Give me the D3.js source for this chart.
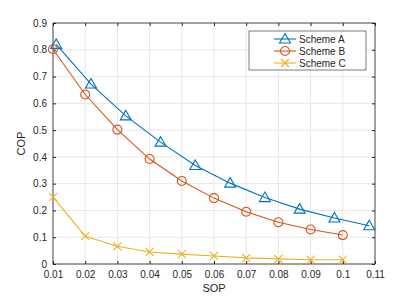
<!DOCTYPE html>
<html>
<head>
<meta charset="utf-8">
<script src="https://d3js.org/d3.v7.min.js"></script>
<style>
  body { margin: 0; background: #fff; }
  text { font-family: "Liberation Sans", Arial, sans-serif; }
</style>
</head>
<body>
<div class="chart"></div>
<script>
// data
var sopA = [0.011, 0.0218, 0.0326, 0.0434, 0.0542, 0.065, 0.0758, 0.0866, 0.0974, 0.1082];
var copA = [0.82, 0.672, 0.553, 0.455, 0.368, 0.302, 0.248, 0.205, 0.172, 0.143];
var sopB = [0.01, 0.02, 0.03, 0.04, 0.05, 0.06, 0.07, 0.08, 0.09, 0.1];
var copB = [0.802, 0.633, 0.502, 0.392, 0.31, 0.246, 0.195, 0.156, 0.129, 0.108];
var sopC = [0.01, 0.02, 0.03, 0.04, 0.05, 0.06, 0.07, 0.08, 0.09, 0.1];
var copC = [0.25, 0.104, 0.066, 0.045, 0.037, 0.03, 0.023, 0.019, 0.016, 0.016];
var xTicks = [0.01, 0.02, 0.03, 0.04, 0.05, 0.06, 0.07, 0.08, 0.09, 0.1, 0.11];
var yTicks = [0, 0.1, 0.2, 0.3, 0.4, 0.5, 0.6, 0.7, 0.8, 0.9];
var seriesNames = ["Scheme A", "Scheme B", "Scheme C"];
var colors = ["#0072BD", "#D95319", "#EDB120"];
var markers = ["triangle", "circle", "x"];

var W = 415, H = 297;
var margins = { top: 23, left: 53, right: 40, bottom: 33 };
var width = W - margins.left - margins.right;
var height = H - margins.top - margins.bottom;

var svg = d3.select('.chart').append('svg')
    .attr('width', W).attr('height', H);
var g = svg.append('g')
    .attr('transform', 'translate(' + margins.left + ',' + margins.top + ')');

var xScale = d3.scaleLinear().domain([0.01, 0.11]).range([0, width]);
var yScale = d3.scaleLinear().domain([0, 0.9]).range([height, 0]);

// grid
g.selectAll('.gx').data(xTicks).enter().append('line')
    .attr('x1', d => xScale(d)).attr('x2', d => xScale(d))
    .attr('y1', 0).attr('y2', height)
    .attr('stroke', '#e6e6e6').attr('stroke-width', 1);
g.selectAll('.gy').data(yTicks).enter().append('line')
    .attr('y1', d => yScale(d)).attr('y2', d => yScale(d))
    .attr('x1', 0).attr('x2', width)
    .attr('stroke', '#e6e6e6').attr('stroke-width', 1);

var axisColor = '#262626';
function styleAxis(sel) {
    sel.select('.domain').remove();
    sel.selectAll('.tick line').attr('stroke', axisColor);
    sel.selectAll('.tick text').attr('fill', axisColor).style('font-size', '10px');
}
var fmt = d => d3.format('')(+d.toFixed(2));

g.append('g').attr('transform', 'translate(0,' + height + ')')
    .call(d3.axisBottom(xScale).tickValues(xTicks).tickFormat(fmt).tickSizeInner(-3).tickSizeOuter(0).tickPadding(7))
    .call(styleAxis);
g.append('g')
    .call(d3.axisTop(xScale).tickValues(xTicks).tickFormat('').tickSizeInner(-3).tickSizeOuter(0))
    .call(styleAxis);
g.append('g')
    .call(d3.axisLeft(yScale).tickValues(yTicks).tickFormat(fmt).tickSizeInner(-3).tickSizeOuter(0).tickPadding(6))
    .call(styleAxis);
g.append('g').attr('transform', 'translate(' + width + ',0)')
    .call(d3.axisRight(yScale).tickValues(yTicks).tickFormat('').tickSizeInner(-3).tickSizeOuter(0))
    .call(styleAxis);

g.append('rect').attr('width', width).attr('height', height)
    .attr('fill', 'none').attr('stroke', axisColor).attr('stroke-width', 0.8);

// labels
g.append('text').attr('x', width / 2).attr('y', height + 28)
    .attr('text-anchor', 'middle').attr('fill', axisColor).style('font-size', '11px').text('SOP');
g.append('text').attr('transform', 'translate(-28,' + (height / 2) + ') rotate(-90)')
    .attr('text-anchor', 'middle').attr('fill', axisColor).style('font-size', '11px').text('COP');

function drawMarker(sel, type, color) {
    if (type === 'triangle') {
        sel.append('path').attr('d', 'M0,-5.5L5.5,4L-5.5,4Z')
            .attr('fill', 'none').attr('stroke', color).attr('stroke-width', 1.1);
    } else if (type === 'circle') {
        sel.append('circle').attr('r', 4.5)
            .attr('fill', 'none').attr('stroke', color).attr('stroke-width', 1.1);
    } else {
        sel.append('path').attr('d', 'M-4,-4L4,4M-4,4L4,-4')
            .attr('fill', 'none').attr('stroke', color).attr('stroke-width', 1.1);
    }
}

var series = [
    sopA.map((x, i) => ({ x: x, y: copA[i] })),
    sopB.map((x, i) => ({ x: x, y: copB[i] })),
    sopC.map((x, i) => ({ x: x, y: copC[i] }))
];

var line = d3.line().x(d => xScale(d.x)).y(d => yScale(d.y));

series.forEach(function (s, k) {
    g.append('path').datum(s).attr('d', line)
        .attr('fill', 'none').attr('stroke', colors[k]).attr('stroke-width', 1.1);
    s.forEach(function (d) {
        var m = g.append('g').attr('transform', 'translate(' + xScale(d.x) + ',' + yScale(d.y) + ')');
        drawMarker(m, markers[k], colors[k]);
    });
});

// legend
var lg = svg.append('g').attr('transform', 'translate(249,31)');
lg.append('rect').attr('width', 117).attr('height', 39)
    .attr('fill', '#fff').attr('stroke', '#262626').attr('stroke-width', 0.6);
seriesNames.forEach(function (s, i) {
    var yy = 8 + i * 12;
    lg.append('line').attr('x1', 25).attr('x2', 47).attr('y1', yy).attr('y2', yy)
        .attr('stroke', colors[i]).attr('stroke-width', 1.1);
    var m = lg.append('g').attr('transform', 'translate(36,' + yy + ')');
    drawMarker(m, markers[i], colors[i]);
    lg.append('text').attr('x', 50).attr('y', yy + 3.5)
        .attr('fill', '#262626').style('font-size', '10px').text(s);
});
</script>
</body>
</html>
